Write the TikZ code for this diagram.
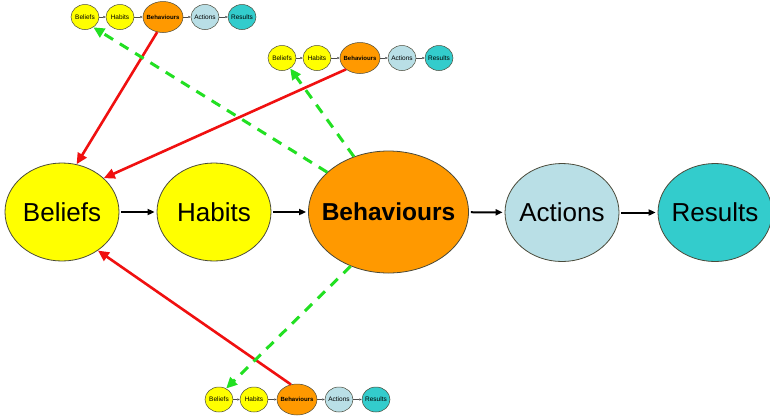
\documentclass[tikz,border=0pt]{standalone}
\usepackage{fontspec}
\setmainfont{Liberation Sans}
\usetikzlibrary{arrows.meta,shapes.geometric}
\definecolor{cyel}{HTML}{FFFF00}
\definecolor{corg}{HTML}{FF9900}
\definecolor{clbl}{HTML}{B9DFE6}
\definecolor{cteal}{HTML}{33CCCC}
\definecolor{cline}{HTML}{4A4A3A}
\definecolor{cred}{HTML}{F01010}
\definecolor{cgrn}{HTML}{22E022}
\newcommand\zw[1]{\makebox[0pt]{#1}}
\tikzset{
  bub/.style={ellipse,draw=cline,line width=0.8pt,inner sep=0pt,minimum width=114pt,minimum height=98pt,font=\fontsize{26}{28}\selectfont},
  bigbeh/.style={bub,minimum width=160pt,minimum height=122pt,font=\bfseries\fontsize{24.5}{26}\selectfont},
  mini/.style={ellipse,draw=cline,line width=0.5pt,inner sep=0pt,minimum width=28pt,minimum height=25pt,font=\fontsize{6.5}{7}\selectfont},
  minibeh/.style={mini,minimum width=40pt,minimum height=31pt,font=\bfseries\fontsize{6}{7}\selectfont},
  blk/.style={-{Triangle[length=7pt,width=6pt]},line width=2pt,black,shorten <=2pt,shorten >=2pt},
  mblk/.style={-{Triangle[length=2.5pt,width=2.2pt]},line width=0.6pt,black!70},
  redarr/.style={-{Triangle[length=11pt,width=10pt]},line width=2.6pt,cred},
  grnarr/.style={-{Triangle[length=11pt,width=10pt]},line width=3pt,cgrn,dash pattern=on 10pt off 8pt},
}
\newcommand\minichain[3]{%
  \node[mini,fill=cyel] (#1b) at (#2-78,#3) {\zw{Beliefs}};
  \node[mini,fill=cyel] (#1h) at (#2-43,#3) {\zw{Habits}};
  \node[minibeh,fill=corg] (#1bh) at (#2,#3) {\zw{Behaviours}};
  \node[mini,fill=clbl] (#1a) at (#2+42,#3) {\zw{Actions}};
  \node[mini,fill=cteal] (#1r) at (#2+79,#3) {\zw{Results}};
  \draw[mblk] (#1b) -- (#1h);
  \draw[mblk] (#1h) -- (#1bh);
  \draw[mblk] (#1bh) -- (#1a);
  \draw[mblk] (#1a) -- (#1r);
}
\begin{document}
\begin{tikzpicture}[x=1pt,y=-1pt]
\useasboundingbox[fill=white] (0,0) rectangle (770,416);
% main chain
\node[bub,fill=cyel] (beliefs) at (62,212) {\zw{Beliefs}};
\node[bub,fill=cyel] (habits) at (214,212) {\zw{Habits}};
\node[bigbeh,fill=corg] (behav) at (388.5,212) {\zw{Behaviours}};
\node[bub,fill=clbl] (actions) at (562,212.5) {\zw{Actions}};
\node[bub,fill=cteal] (results) at (715,212.5) {\zw{Results}};
\draw[blk] (beliefs) -- (habits);
\draw[blk] (habits) -- (behav);
\draw[blk] (behav) -- (actions);
\draw[blk] (actions) -- (results);
% mini chains
\minichain{t}{163}{17}
\minichain{m}{360}{58}
\minichain{b}{297}{399.5}
% red arrows
\draw[redarr] (tbh.249) -- (beliefs.73);
\draw[redarr] (mbh.219) -- (beliefs.39);
\draw[redarr] (bbh.112) -- (beliefs.313);
% green dashed arrows
\draw[grnarr] (behav.147) -- (tb.309);
\draw[grnarr] (behav.122) -- (mb.308);
\draw[grnarr] (behav.235) -- (bb.57);
\end{tikzpicture}
\end{document}
